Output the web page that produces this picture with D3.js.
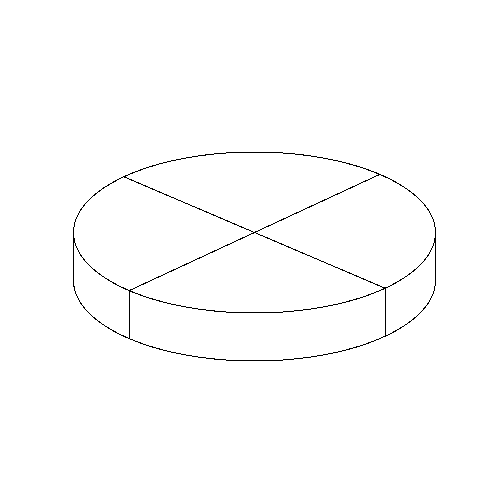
<!DOCTYPE html>
<html><head><meta charset="utf-8">
<script src="https://cdn.jsdelivr.net/npm/d3@7"></script>
<style>html,body{margin:0;padding:0;background:#fff;}</style>
</head><body>
<svg id="c" width="480" height="480"></svg>
<script>
const categories = ["A", "B", "C", "D"];
const values = [25, 25, 25, 25];

const W = 480, H = 480;
const cx = 254.5, cy = 232.5, rx = 181, ry = 80.5, depth = 48;
const startDeg = 43.8;
const svg = d3.select("#c");
const g = svg.append("g").attr("shape-rendering", "crispEdges");

const s0 = startDeg * Math.PI / 180;
const pie = d3.pie().sort(null).startAngle(s0).endAngle(s0 + 2 * Math.PI);
const arcs = pie(values);

const px = a => cx + rx * Math.sin(a);
const py = a => cy - ry * Math.cos(a);

// side (front half: a from PI/2 to 3PI/2)
const N = 120;
const side = d3.path();
side.moveTo(px(Math.PI / 2), py(Math.PI / 2));
for (let i = 0; i <= N; i++) {
  const a = Math.PI / 2 + Math.PI * i / N;
  side.lineTo(px(a), py(a));
}
for (let i = N; i >= 0; i--) {
  const a = Math.PI / 2 + Math.PI * i / N;
  side.lineTo(px(a), py(a) + depth);
}
side.closePath();
g.append("path").attr("d", side.toString()).attr("fill", "#fff").attr("stroke", "#000").attr("stroke-width", 1);

// vertical lines at slice boundaries in front half
arcs.forEach(d => {
  let a = d.startAngle % (2 * Math.PI);
  if (a > Math.PI / 2 && a < 3 * Math.PI / 2) {
    g.append("line")
      .attr("x1", px(a)).attr("y1", py(a))
      .attr("x2", px(a)).attr("y2", py(a) + depth)
      .attr("stroke", "#000");
  }
});

// top slices
arcs.forEach(d => {
  const p = d3.path();
  p.moveTo(cx, cy);
  const steps = 60;
  for (let i = 0; i <= steps; i++) {
    const a = d.startAngle + (d.endAngle - d.startAngle) * i / steps;
    p.lineTo(px(a), py(a));
  }
  p.closePath();
  g.append("path").attr("d", p.toString()).attr("fill", "#fff").attr("stroke", "#000").attr("stroke-width", 1)
    .attr("stroke-linejoin", "round");
});
</script>
</body></html>
